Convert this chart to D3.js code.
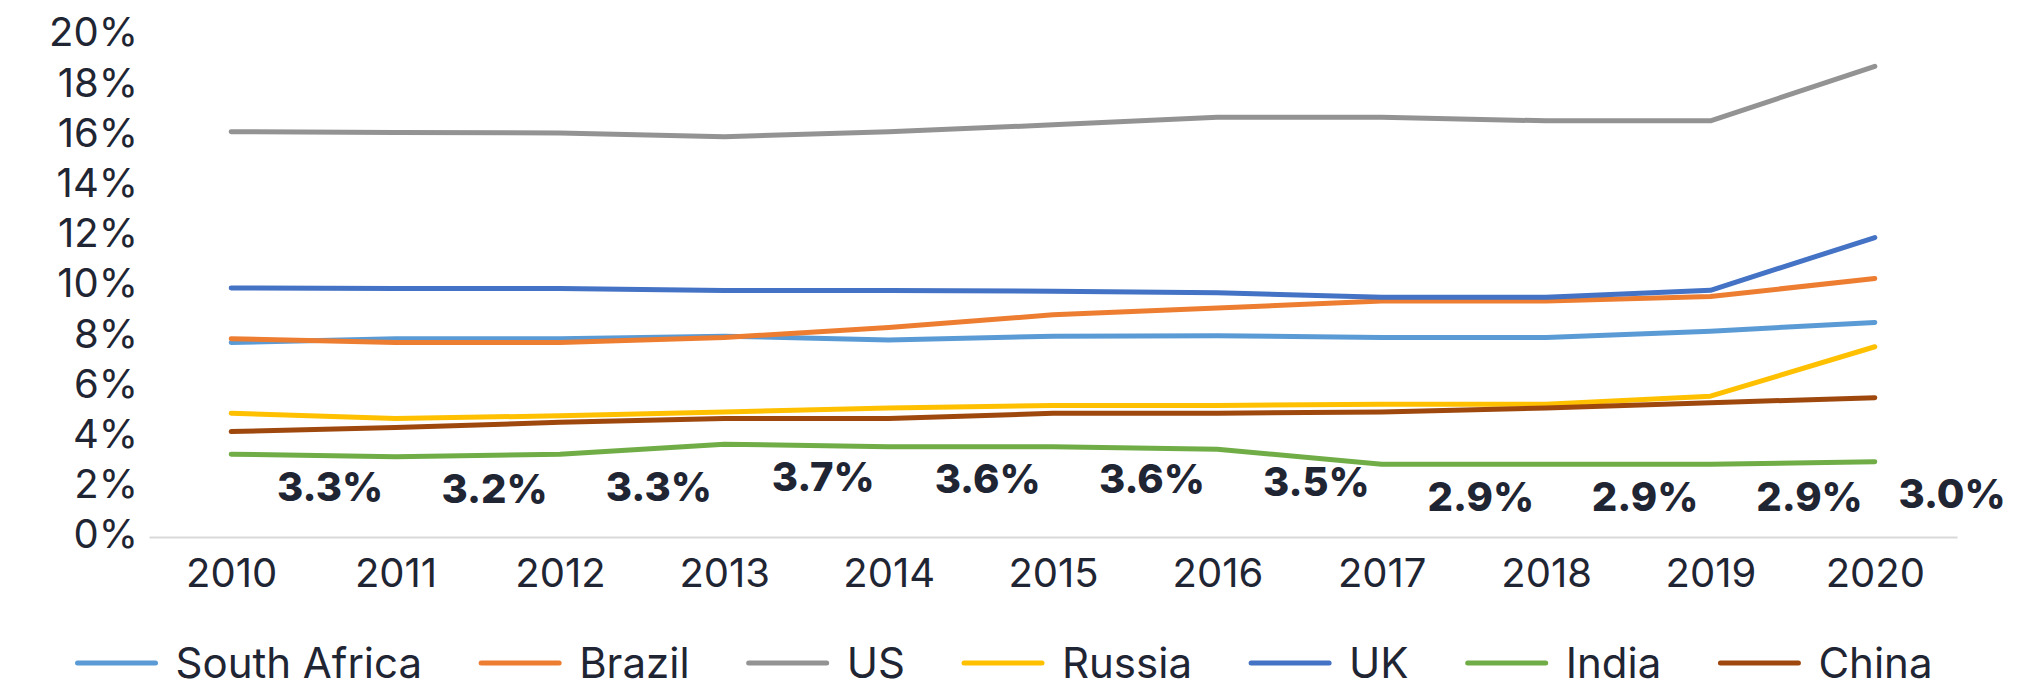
<!DOCTYPE html>
<html>
<head>
<meta charset="utf-8">
<script src="https://cdn.jsdelivr.net/npm/d3@7"></script>
<style>
  html, body { margin: 0; padding: 0; background: #fff; }
  #chart text { font-family: Inter, "Noto Sans", sans-serif; fill: #1f2533; }
</style>
</head>
<body>
<div id="chart"></div>
<script>
// Data (share of GDP, %)
const years = ["2010", "2011", "2012", "2013", "2014", "2015", "2016", "2017", "2018", "2019", "2020"];
const yTicks = [0, 2, 4, 6, 8, 10, 12, 14, 16, 18, 20];

const southAfrica = [7.75, 7.9, 7.9, 8.0, 7.85, 8.0, 8.02, 7.95, 7.95, 8.2, 8.55];
const brazil      = [7.9, 7.75, 7.75, 7.95, 8.35, 8.85, 9.12, 9.4, 9.4, 9.58, 10.3];
const us          = [16.15, 16.12, 16.1, 15.95, 16.15, 16.42, 16.72, 16.72, 16.58, 16.58, 18.75];
const russia      = [4.93, 4.72, 4.83, 4.98, 5.14, 5.24, 5.24, 5.29, 5.29, 5.61, 7.58];
const uk          = [9.92, 9.9, 9.9, 9.82, 9.82, 9.79, 9.73, 9.55, 9.55, 9.83, 11.93];
const india       = [3.3, 3.2, 3.3, 3.7, 3.6, 3.6, 3.5, 2.9, 2.9, 2.9, 3.0];
const china       = [4.2, 4.36, 4.57, 4.72, 4.72, 4.93, 4.93, 4.98, 5.14, 5.35, 5.55];

const seriesNames  = ["South Africa", "Brazil", "US", "Russia", "UK", "India", "China"];
const seriesValues = [southAfrica, brazil, us, russia, uk, india, china];
const seriesColors = ["#5b9bd5", "#ed7d31", "#939393", "#ffc000", "#4472c4", "#70ad47", "#9e480e"];

const width = 2044;
const height = 689;

const svg = d3.select("#chart")
    .append("svg")
    .attr("width", width)
    .attr("height", height);

const x = d3.scalePoint()
    .domain(years)
    .range([149, 1957])
    .padding(0.5);

const y = d3.scaleLinear()
    .domain([0, 20])
    .range([537, 35]);

// Bottom axis line + year labels
const xAxis = svg.append("g")
    .attr("transform", `translate(0,${y(0)})`)
    .call(d3.axisBottom(x).tickSize(0).tickPadding(22));
xAxis.select(".domain").attr("stroke", "#d9d9d9").attr("stroke-width", 2);
xAxis.selectAll("text")
    .style("font-size", "40px")
    .attr("fill", "#1f2533");

// Left axis: labels only
const yAxis = svg.append("g")
    .attr("transform", "translate(138,0)")
    .call(d3.axisLeft(y).tickValues(yTicks).tickSize(0).tickPadding(0).tickFormat(d => d + "%"));
yAxis.select(".domain").remove();
yAxis.selectAll("text")
    .style("font-size", "40px")
    .attr("fill", "#1f2533")
    .attr("dy", "0.27em");

// Lines
const line = d3.line()
    .x((d, i) => x(years[i]))
    .y(d => y(d));

svg.append("g")
    .selectAll("path")
    .data(seriesValues)
    .join("path")
    .attr("d", d => line(d))
    .attr("fill", "none")
    .attr("stroke", (d, i) => seriesColors[i])
    .attr("stroke-width", 5)
    .attr("stroke-linecap", "round")
    .attr("stroke-linejoin", "round");

// India value labels, sitting below and to the right of each point
svg.append("g")
    .selectAll("text")
    .data(india)
    .join("text")
    .attr("x", (d, i) => Math.min(x(years[i]) + 99, 1952))
    .attr("y", d => y(d) + 32)
    .attr("dy", "0.36em")
    .attr("text-anchor", "middle")
    .style("font-size", "40px")
    .style("font-weight", 800)
    .text(d => d.toFixed(1) + "%");

// Legend
const legendY = 663;
const legend = svg.append("g");
const items = legend.selectAll("g")
    .data(seriesNames)
    .join("g");

items.append("line")
    .attr("x1", 0).attr("x2", 78)
    .attr("y1", 0).attr("y2", 0)
    .attr("stroke", (d, i) => seriesColors[i])
    .attr("stroke-width", 5)
    .attr("stroke-linecap", "round");

items.append("text")
    .attr("x", 98)
    .attr("dy", "0.35em")
    .style("font-size", "42px")
    .text(d => d);

// lay items out left to right over the same span as the reference row
const widths = [];
items.each(function () { widths.push(this.getBBox().width); });
const span = 1855;
const gap = Math.max(30, (span - d3.sum(widths)) / (widths.length - 1));
let cursor = 0;
items.each(function (d, i) {
    d3.select(this).attr("transform", `translate(${cursor},0)`);
    cursor += widths[i] + gap;
});
const total = cursor - gap;
legend.attr("transform", `translate(${1005 - total / 2},${legendY})`);
</script>
</body>
</html>
